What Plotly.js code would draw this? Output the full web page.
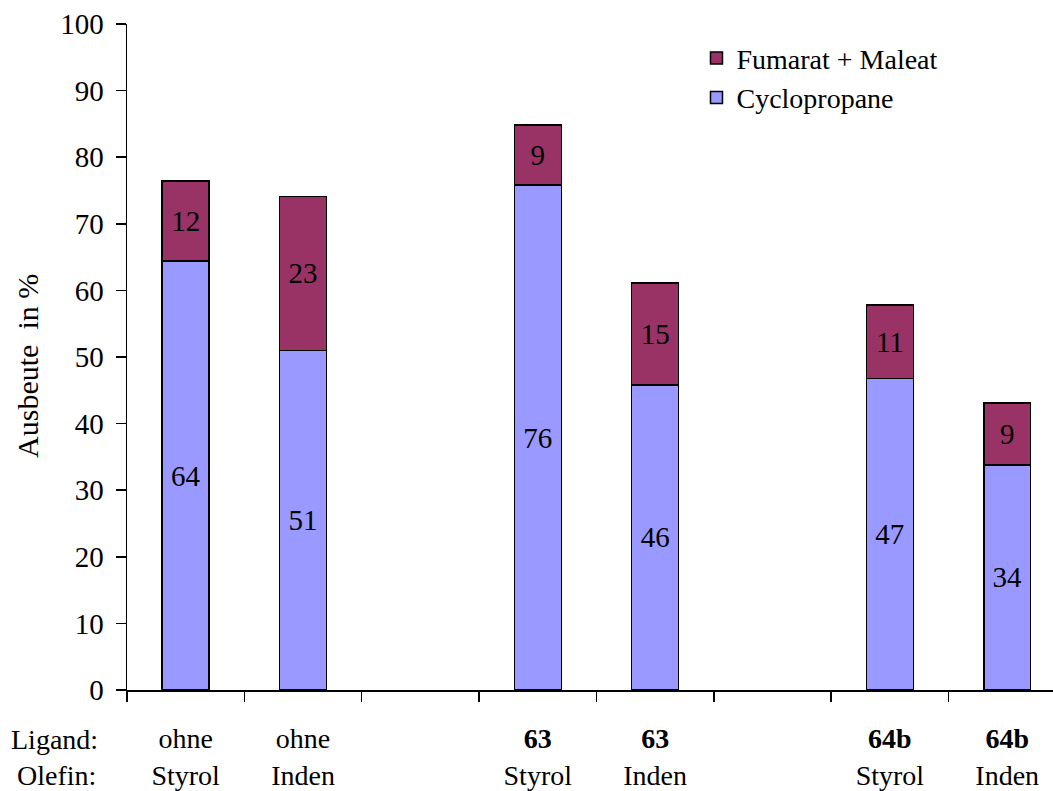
<!DOCTYPE html>
<html>
<head>
<meta charset="utf-8">
<script src="https://cdn.plot.ly/plotly-3.0.1.min.js"></script>
<style>html,body{margin:0;padding:0;background:#fff;}#chart{width:1053px;height:791px;}</style>
</head>
<body>
<div id="chart"></div>
<script>
const categories = ["ohne<br>Styrol", "ohne<br>Inden", " ", "<b>63</b><br>Styrol", "<b>63</b><br>Inden", "  ", "<b>64b</b><br>Styrol", "<b>64b</b><br>Inden"];
const cyclopropane = [64.4, 51, null, 75.8, 45.8, null, 46.8, 33.8];
const fumaratMaleat = [12, 23.1, null, 9, 15.3, null, 11, 9.3];
const seriesNames = ["Cyclopropane", "Fumarat + Maleat"];
const yTicks = [0, 10, 20, 30, 40, 50, 60, 70, 80, 90, 100];

const font = "'Liberation Serif', 'Times New Roman', serif";
const common = {
  type: "bar",
  x: categories,
  texttemplate: "%{y:.0f}",
  textposition: "inside",
  insidetextanchor: "middle",
  constraintext: "none",
  textfont: {family: font, size: 29, color: "#000"},
  hoverinfo: "skip"
};
const data = [
  Object.assign({}, common, {name: seriesNames[0], y: cyclopropane,
    marker: {color: "#9999FF", line: {color: "#000", width: 1.5}}}),
  Object.assign({}, common, {name: seriesNames[1], y: fumaratMaleat,
    marker: {color: "#993366", line: {color: "#000", width: 1.5}}})
];
const layout = {
  width: 1053, height: 791,
  margin: {l: 127, r: 0, t: 24, b: 101},
  paper_bgcolor: "#fff", plot_bgcolor: "#fff",
  barmode: "stack",
  bargap: 0.6,
  font: {family: font, size: 28, color: "#000"},
  showlegend: true,
  legend: {x: 0.615, y: 0.986, xanchor: "left", yanchor: "top", traceorder: "reversed",
    font: {family: font, size: 28, color: "#000"}, itemwidth: 30, tracegroupgap: 0, bgcolor: "rgba(0,0,0,0)"},
  xaxis: {
    type: "category", range: [-0.5, 7.39],
    tickson: "boundaries", ticks: "outside", ticklen: 10, tickwidth: 1.5, tickcolor: "#000",
    showline: true, linecolor: "#000", linewidth: 1.5, showgrid: false, zeroline: false,
    tickfont: {family: font, size: 28, color: "#000"}, ticklabelstandoff: 23, tickangle: 0
  },
  yaxis: {
    range: [0, 100], tickvals: yTicks, ticktext: yTicks.map(String),
    ticks: "outside", ticklen: 10, tickwidth: 1.5, tickcolor: "#000",
    showline: true, linecolor: "#000", linewidth: 1.5, showgrid: false, zeroline: false,
    tickfont: {family: font, size: 29, color: "#000"}, ticklabelstandoff: 6
  },
  annotations: [
    {xref: "paper", yref: "paper", x: -0.107, y: 0.4865, xanchor: "center", yanchor: "middle", showarrow: false,
     textangle: -90, text: "Ausbeute  in %", font: {family: font, size: 30, color: "#000"}},
    {xref: "paper", yref: "paper", x: -0.127, y: -0.075, xanchor: "left", yanchor: "middle", showarrow: false,
     text: "Ligand:", font: {family: font, size: 28, color: "#000"}},
    {xref: "paper", yref: "paper", x: -0.121, y: -0.129, xanchor: "left", yanchor: "middle", showarrow: false,
     text: "Olefin:", font: {family: font, size: 28, color: "#000"}}
  ]
};
Plotly.newPlot("chart", data, layout, {displayModeBar: false, staticPlot: true});
</script>
</body>
</html>
